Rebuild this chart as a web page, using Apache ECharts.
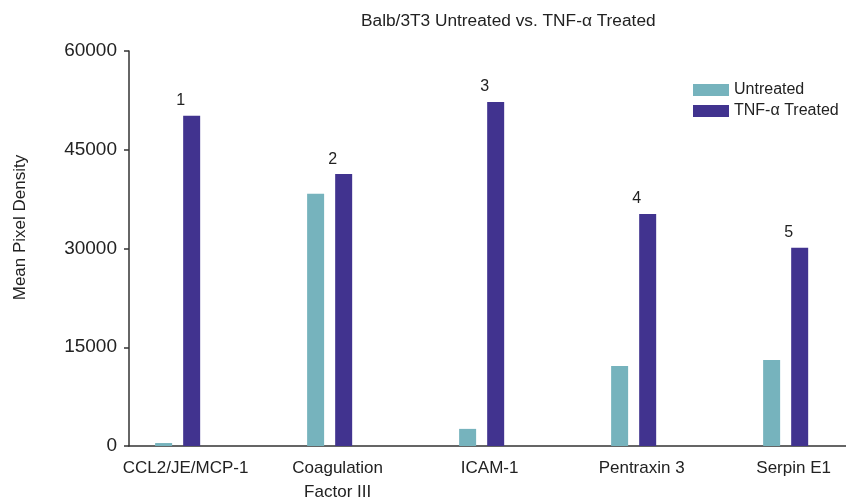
<!DOCTYPE html>
<html>
<head>
<meta charset="utf-8">
<script src="https://cdn.jsdelivr.net/npm/echarts@6/dist/echarts.min.js"></script>
<style>
html,body{margin:0;padding:0;background:#fff;overflow:hidden;}
#chart{position:fixed;left:0;top:0;width:846px;height:499px;}
</style>
</head>
<body>
<div id="chart"></div>
<script>
var categories = ['CCL2/JE/MCP-1', 'Coagulation\nFactor III', 'ICAM-1', 'Pentraxin 3', 'Serpin E1'];
var untreated = [450, 38300, 2600, 12150, 13050];
var treated = [50150, 41300, 52250, 35250, 30100];
var rankLabels = ['1', '2', '3', '4', '5'];
var yTicks = [0, 15000, 30000, 45000, 60000];

var FONT = '"Liberation Sans", Arial, sans-serif';
var chart = echarts.init(document.getElementById('chart'), null, {renderer: 'canvas', width: 846, height: 499});

function pts(arr) { return arr.map(function (v, i) { return [i, v]; }); }

chart.setOption({
  animation: false,
  backgroundColor: '#ffffff',
  title: {
    text: 'Balb/3T3 Untreated vs. TNF-\u03b1 Treated',
    left: 356, top: 8,
    textStyle: {fontFamily: FONT, fontSize: 17.3, fontWeight: 'normal', color: '#222'}
  },
  legend: {
    left: 688, top: 77, orient: 'vertical',
    icon: 'rect', itemWidth: 36, itemHeight: 12, itemGap: 5,
    textStyle: {fontFamily: FONT, fontSize: 16, color: '#222'},
    data: ['Untreated', 'TNF-\u03b1 Treated']
  },
  grid: {left: 129, width: 717, top: 51, height: 395, containLabel: false, outerBoundsMode: 'none'},
  xAxis: {
    type: 'value',
    min: -0.32, max: 4.397,
    splitLine: {show: false},
    axisLine: {show: true, onZero: false, lineStyle: {color: '#333', width: 1.5}},
    axisTick: {show: false},
    axisLabel: {
      customValues: [0, 1, 2, 3, 4],
      formatter: function (v) { return categories[Math.round(v)] || ''; },
      fontFamily: FONT, fontSize: 17, color: '#222', lineHeight: 24,
      margin: 10, padding: [0, 0, 0, 16]
    }
  },
  yAxis: {
    type: 'value',
    min: yTicks[0], max: yTicks[yTicks.length - 1], interval: 15000,
    name: 'Mean Pixel Density',
    nameLocation: 'middle', nameGap: 100,
    nameTextStyle: {fontFamily: FONT, fontSize: 17, color: '#222', padding: [0, 0, 0, 42]},
    splitLine: {show: false},
    axisLine: {show: true, onZero: false, lineStyle: {color: '#333', width: 1.5}},
    axisTick: {show: true, length: 5, lineStyle: {color: '#333', width: 1.5}},
    axisLabel: {
      fontFamily: FONT, fontSize: 19, color: '#222', margin: 12,
      formatter: function (v) { return String(v); }
    }
  },
  series: [
    {
      name: 'Untreated', type: 'bar',
      data: pts(untreated),
      barWidth: 17, barGap: '65%',
      itemStyle: {color: '#76b3bd'}
    },
    {
      name: 'TNF-\u03b1 Treated', type: 'bar',
      data: pts(treated),
      barWidth: 17, barGap: '65%',
      itemStyle: {color: '#41338f'},
      label: {
        show: true, position: 'top', distance: 7, offset: [-11, 0],
        formatter: function (p) { return rankLabels[p.dataIndex]; },
        fontFamily: FONT, fontSize: 16, color: '#222'
      }
    }
  ]
});
</script>
</body>
</html>
